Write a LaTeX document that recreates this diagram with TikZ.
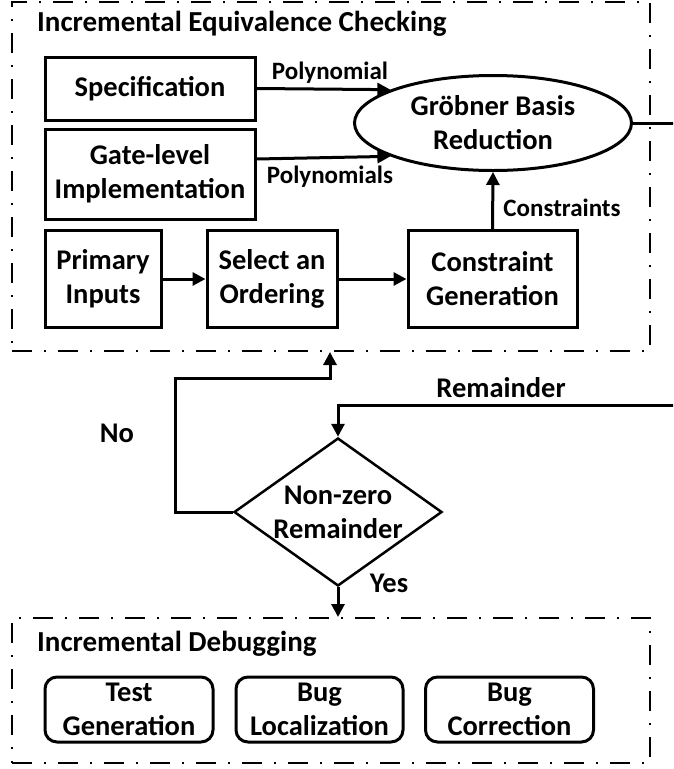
\documentclass[tikz,border=0pt]{standalone}
\usepackage{fontspec}
\setmainfont{Carlito}
\usetikzlibrary{shapes.geometric,arrows.meta}
\tikzset{
  boxtext/.style={font=\bfseries\fontsize{28.5}{34}\selectfont},
  lbltext/.style={font=\bfseries\fontsize{25}{28}\selectfont},
  titletext/.style={font=\bfseries\fontsize{29}{32}\selectfont},
  sqbox/.style={draw, line width=3pt, align=center, inner sep=0pt, boxtext},
  rbox/.style={draw, line width=3pt, align=center, inner sep=0pt, rounded corners=12pt, boxtext, minimum height=65pt},
  groupbox/.style={draw, line width=2pt, dash pattern=on 20pt off 12pt on 2pt off 12pt, inner sep=0pt},
  arr/.style={line width=3pt, -{Triangle[length=13pt,width=13pt]}},
  plain/.style={line width=3pt}
}
\begin{document}
\begin{tikzpicture}[x=1pt,y=-1pt]
\useasboundingbox (0,0) rectangle (673,769);
\clip (0,0) rectangle (673,769);
\fill[white] (0,0) rectangle (673,769);

% group boxes
\node[groupbox, minimum width=638pt, minimum height=349pt] (ieq) at (331,176.5) {};
\node[groupbox, minimum width=638pt, minimum height=145pt] (dbg) at (331,690.5) {};
\node[titletext, anchor=west, inner sep=0pt] (t1) at (37,24) {Incremental Equivalence Checking};
\node[titletext, anchor=west, inner sep=0pt] (t2) at (37,644) {Incremental Debugging};

% boxes
\node[sqbox, minimum width=210pt, minimum height=63pt] (spec) at (150,88.5) {Specification};
\node[sqbox, minimum width=210pt, minimum height=90pt] (gate) at (150,174) {Gate-level\\Implementation};
\node[sqbox, minimum width=116pt, minimum height=97pt] (pi) at (103,279) {Primary\\Inputs};
\node[sqbox, minimum width=130pt, minimum height=97pt] (ord) at (272,279) {Select an\\Ordering};
\node[sqbox, minimum width=169pt, minimum height=97pt] (cg) at (492.5,279) {Constraint\\Generation};
\node[ellipse, draw, line width=3pt, inner sep=0pt, minimum width=277pt, minimum height=95pt, align=center, boxtext] (gb) at (493,123) {Gr\"obner Basis\\Reduction};

% diamond
\node[diamond, draw, line width=2.5pt, inner sep=0pt, minimum width=208pt, minimum height=148pt] (dia) at (338,512) {};
\node[boxtext, align=center] (diat) at (dia.center) {Non-zero\\Remainder};

% debugging boxes
\node[rbox, minimum width=168pt] (tg) at (129,709.5) {Test\\Generation};
\node[rbox, minimum width=167pt] (bl) at (319.5,709.5) {Bug\\Localization};
\node[rbox, minimum width=168pt] (bc) at (509.5,709.5) {Bug\\Correction};

% connectors
\draw[arr] (spec.east) -- (gb.162);
\draw[arr] ([yshift=15pt]gate.east) -- (gb.198);
\draw[arr] (pi) -- (ord);
\draw[arr] (ord) -- (cg);
\draw[arr] (cg.north) -- (gb.south);
\coordinate (offr) at (700,123);
\coordinate (offr2) at (700,405);
\draw[arr] (gb.east) -- (offr) -- (offr2) -| (dia.north);
\coordinate (loopc) at (175,378);
\draw[arr] (dia.west) -| (loopc) -| ([xshift=-1pt]ieq.south);
\draw[arr] (dia.south) -- (dia.south |- dbg.north);

% labels
\node[lbltext] (l1) at (330,73) {Polynomial};
\node[lbltext] (l2) at (330,177) {Polynomials};
\node[lbltext] (l3) at (562,208) {Constraints};
\node[boxtext] (l4) at (501,388) {Remainder};
\node[boxtext] (l5) at (117,433) {No};
\node[boxtext] (l6) at (389,583) {Yes};
\end{tikzpicture}
\end{document}
